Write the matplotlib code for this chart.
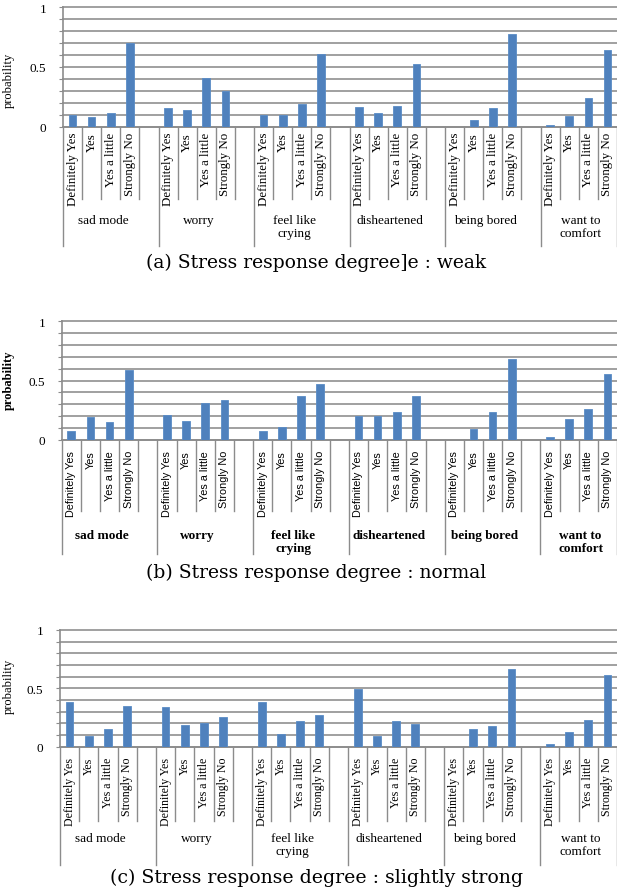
import numpy as np
import matplotlib
matplotlib.use('Agg')
import matplotlib.pyplot as plt
import matplotlib.transforms as mtransforms

# ---- data ----
groups = ['sad mode', 'worry', 'feel like\ncrying', 'disheartened', 'being bored', 'want to\ncomfort']
answers = ['Definitely Yes', 'Yes', 'Yes a little', 'Strongly No']

# rows = groups, cols = answers
prob_weak = [
    [0.10, 0.084, 0.117, 0.70],
    [0.16, 0.14, 0.41, 0.30],
    [0.10, 0.095, 0.19, 0.61],
    [0.165, 0.117, 0.176, 0.525],
    [0.0, 0.056, 0.154, 0.776],
    [0.011, 0.09, 0.24, 0.645],
]
prob_normal = [
    [0.07, 0.19, 0.146, 0.59],
    [0.205, 0.158, 0.31, 0.338],
    [0.07, 0.104, 0.369, 0.468],
    [0.203, 0.203, 0.234, 0.369],
    [0.0, 0.093, 0.234, 0.68],
    [0.025, 0.177, 0.26, 0.555],
]
prob_strong = [
    [0.384, 0.095, 0.152, 0.35],
    [0.338, 0.183, 0.203, 0.252],
    [0.384, 0.109, 0.218, 0.27],
    [0.496, 0.089, 0.218, 0.195],
    [0.0, 0.152, 0.175, 0.668],
    [0.02, 0.129, 0.229, 0.613],
]
titles = ['(a) Stress response degree]e : weak',
          '(b) Stress response degree : normal',
          '(c) Stress response degree : slightly strong']

# ---- layout (pixels) ----
W, H = 617, 895
fig = plt.figure(figsize=(W / 100, H / 100), dpi=100)

def fy(py):
    return 1 - py / H

layout = [
    dict(left=63, top=8.3, zero=127.7, lab=133, sep=200, grp=247, gtop=215, cap=263, capsize=13.5,
         catfont='Liberation Serif', catsize=9.3, gbold=False, ylab=80),
    dict(left=61.7, top=322.3, zero=440.7, lab=451, sep=511.7, grp=555, gtop=530, cap=573, capsize=13.5,
         catfont='Liberation Sans', catsize=7.8, gbold=True, ylab=380),
    dict(left=60, top=631, zero=747.7, lab=758, sep=821.7, grp=866, gtop=833, cap=878, capsize=13.6,
         catfont='Liberation Serif', catsize=8.6, gbold=False, ylab=686),
]
data = [prob_weak, prob_normal, prob_strong]

GRID = '#A0A0A0'
AXC = '#8C8C8C'
BLUE = '#4F81BD'

for vals, lay, title in zip(data, layout, titles):
    ax = fig.add_axes([lay['left'] / W, fy(lay['zero']),
                       (W - lay['left']) / W, (lay['zero'] - lay['top']) / H])
    xs, ys = [], []
    for g in range(len(groups)):
        for k in range(len(answers)):
            xs.append(5 * g + k)
            ys.append(vals[g][k])
    ax.bar(xs, ys, width=0.4, color=BLUE, edgecolor='#5A8CC6', linewidth=0.6, zorder=3)

    ax.set_xlim(-0.5, 28.5)
    ax.set_ylim(0, 1)
    yt = np.round(np.arange(0, 1.01, 0.1), 1)
    ax.set_yticks(yt)
    ax.set_yticklabels(['0' if v == 0 else '0.5' if v == 0.5 else '1' if v == 1 else '' for v in yt],
                       family='Liberation Serif', fontsize=9.5)
    ax.tick_params(axis='y', length=3, color=AXC, pad=9)
    ax.set_xticks([])
    ax.yaxis.grid(True, color=GRID, linewidth=1.4)
    for gl in ax.get_ygridlines():
        gl.set_clip_on(False)
    ax.set_axisbelow(True)
    for s in ['top', 'right']:
        ax.spines[s].set_visible(False)
    for s in ['left', 'bottom']:
        ax.spines[s].set_color(AXC)
        ax.spines[s].set_linewidth(1.2)

    ax.set_ylabel('probability', family='Liberation Serif', fontsize=9,
                  fontweight='bold' if lay['gbold'] else 'normal')
    ax.yaxis.set_label_coords((15 - lay['left']) / (W - lay['left']),
                              (lay['zero'] - lay['ylab']) / (lay['zero'] - lay['top']))

    trans = mtransforms.blended_transform_factory(ax.transData, fig.transFigure)
    # category separators and group boundaries
    for g in range(len(groups)):
        nslots = 4 if g == len(groups) - 1 else 5
        for k in range(4):
            b = 5 * g + k + 0.5
            if k == 3 and nslots == 4:
                continue
            ax.plot([b, b], [fy(lay['zero']), fy(lay['sep'])], transform=trans,
                    clip_on=False, color=AXC, linewidth=1.0)
    for b in [-0.5, 4.5, 9.5, 14.5, 19.5, 24.5, 28.5]:
        ax.plot([b, b], [fy(lay['zero']), fy(lay['grp'])], transform=trans,
                clip_on=False, color=AXC, linewidth=1.0)

    for g, gname in enumerate(groups):
        for k, a in enumerate(answers):
            ax.text(5 * g + k, fy(lay['lab']), a, rotation=90, ha='center', va='top',
                    transform=trans, family=lay['catfont'], fontsize=lay['catsize'])
        ax.text(5 * g + 1.6, fy(lay['gtop']), gname, ha='center', va='top',
                transform=trans, family='Liberation Serif', fontsize=9.5,
                fontweight='bold' if lay['gbold'] else 'normal', linespacing=1.15)

    fig.text(316 / W, fy(lay['cap']), title, ha='center', va='center',
             family='DejaVu Serif', fontsize=lay['capsize'])

fig.savefig('out.png', dpi=100)
